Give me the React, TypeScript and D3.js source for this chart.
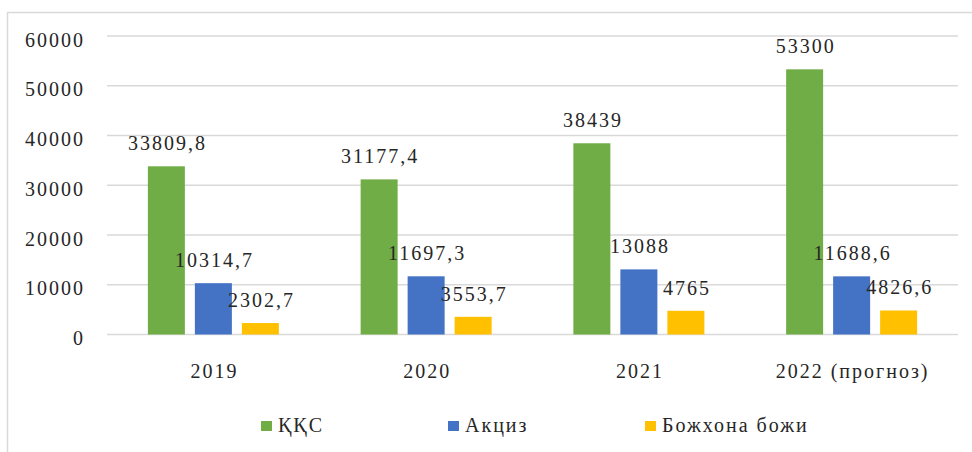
import * as d3 from 'd3';

const years = ['2019', '2020', '2021', '2022 (прогноз)'];
const seriesNames = ['ҚҚС', 'Акциз', 'Божхона божи'];
const qqs = [33809.8, 31177.4, 38439, 53300];
const aksiz = [10314.7, 11697.3, 13088, 11688.6];
const bojxona = [2302.7, 3553.7, 4765, 4826.6];
const yTicks = [0, 10000, 20000, 30000, 40000, 50000, 60000];
const colors = ['#70AD47', '#4472C4', '#FFC000'];

const fmt = (v: number) => String(v).replace('.', ',');

const FONT = "'Liberation Serif'";
const SPACING = 2; // source text is a bit wider than the font

function Label({ x, y, text, anchor }: { x: number; y: number; text: string; anchor: string }) {
  // trailing letter-spacing shifts anchored text a little, compensate
  const dx = anchor === 'end' ? SPACING : anchor === 'middle' ? SPACING / 2 : 0;
  return (
    <text
      x={x + dx}
      y={y}
      textAnchor={anchor}
      style={{ fontFamily: FONT, fontSize: 20, letterSpacing: SPACING }}
      fill="#262626"
    >
      {text}
    </text>
  );
}

export default function App() {
  const x = d3.scaleBand().domain(years).range([107, 958]);
  const y = d3.scaleLinear().domain([0, 60000]).range([334.5, 36]);
  const barW = 37;
  const gap = 10;
  const groupW = 3 * barW + 2 * gap;
  const allSeries = [qqs, aksiz, bojxona];
  const legendX = [261, 448, 645];

  const bx = (yr: string, si: number) =>
    x(yr)! + (x.bandwidth() - groupW) / 2 + si * (barW + gap);

  return (
    <svg
      width={972}
      height={452}
      style={{ position: 'absolute', left: 0, top: 0, background: '#fff' }}
    >
      {/* outer frame */}
      <rect x={7.5} y={12.5} width={1000} height={500} fill="none" stroke="#d9d9d9" strokeWidth={1.5} />

      {/* gridlines */}
      {yTicks.map(t => (
        <line key={t} x1={107} x2={958} y1={y(t)} y2={y(t)} stroke="#d9d9d9" strokeWidth={1.3} />
      ))}

      {/* y tick labels */}
      {yTicks.map(t => (
        <Label key={t} x={83} y={y(t) + 10.5} text={String(t)} anchor="end" />
      ))}

      {/* x labels */}
      {years.map(yr => (
        <Label key={yr} x={x(yr)! + x.bandwidth() / 2} y={378} text={yr} anchor="middle" />
      ))}

      {/* bars */}
      {allSeries.map((vals, si) => (
        <g key={si}>
          {years.map((yr, i) => (
            <rect
              key={yr}
              x={bx(yr, si)}
              y={y(vals[i])}
              width={barW}
              height={y(0) - y(vals[i])}
              fill={colors[si]}
            />
          ))}
        </g>
      ))}

      {/* data labels */}
      {allSeries.map((vals, si) => (
        <g key={si}>
          {years.map((yr, i) => (
            <Label key={yr} x={bx(yr, si) + barW / 2} y={y(vals[i]) - 16} text={fmt(vals[i])} anchor="middle" />
          ))}
        </g>
      ))}

      {/* legend */}
      {seriesNames.map((name, i) => (
        <g key={name}>
          <rect x={legendX[i]} y={421} width={11} height={10} fill={colors[i]} />
          <Label x={legendX[i] + 17} y={432} text={name} anchor="start" />
        </g>
      ))}
    </svg>
  );
}
